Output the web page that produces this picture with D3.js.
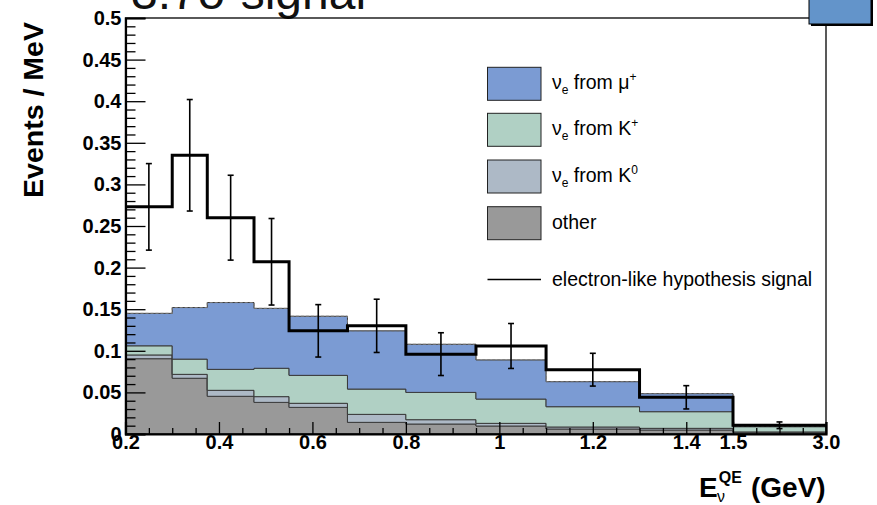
<!DOCTYPE html>
<html>
<head>
<meta charset="utf-8">
<script src="https://cdn.jsdelivr.net/npm/d3@7"></script>
<style>
  html, body { margin: 0; padding: 0; background: #fff; }
  svg { display: block; }
  text { font-family: "Liberation Sans", Arial, Helvetica, sans-serif; }
</style>
</head>
<body>
<div id="chart"></div>
<script>
// ---- data ----
const binEdges = [0.2, 0.3, 0.375, 0.475, 0.55, 0.675, 0.8, 0.95, 1.1, 1.3, 1.5, 3.0];
const otherVals = [0.0905, 0.067, 0.0453, 0.038, 0.032, 0.014, 0.012, 0.0096, 0.006, 0.0048, 0.0015];
const k0Vals    = [0.0045, 0.0047, 0.0072, 0.0069, 0.0049, 0.0096, 0.0052, 0.0032, 0.0024, 0.002, 0.001];
const kplusVals = [0.011, 0.0183, 0.0252, 0.0341, 0.0336, 0.0304, 0.0328, 0.0292, 0.0244, 0.02, 0.0063];
const muVals    = [0.039, 0.062, 0.0803, 0.072, 0.071, 0.070, 0.0578, 0.047, 0.0301, 0.0217, 0.0007];
const signalVals = [0.273, 0.335, 0.260, 0.207, 0.124, 0.130, 0.096, 0.1058, 0.0773, 0.0441, 0.0105];
const signalErr  = [0.052, 0.067, 0.051, 0.052, 0.0315, 0.032, 0.0257, 0.027, 0.0197, 0.014, 0.004];

const seriesNames = ["other", "k0", "kplus", "mu"];
const seriesColors = ["#999999", "#adb9c6", "#b0d0c4", "#7b9bd3"];
const legendLabels = [
  {sym: "ν", sub: "e", txt: " from μ", sup: "+"},
  {sym: "ν", sub: "e", txt: " from K", sup: "+"},
  {sym: "ν", sub: "e", txt: " from K", sup: "0"},
  {txt: "other"}
];

const yTicks = [0, 0.05, 0.1, 0.15, 0.2, 0.25, 0.3, 0.35, 0.4, 0.45, 0.5];
const yTickLabels = ["0", "0.05", "0.1", "0.15", "0.2", "0.25", "0.3", "0.35", "0.4", "0.45", "0.5"];
const xTicks = [0.2, 0.4, 0.6, 0.8, 1.0, 1.2, 1.4, 1.5, 3.0];
const xTickLabels = ["0.2", "0.4", "0.6", "0.8", "1", "1.2", "1.4", "1.5", "3.0"];
const xMinorTicks = [0.25, 0.3, 0.35, 0.45, 0.5, 0.55, 0.65, 0.7, 0.75, 0.85, 0.9, 0.95,
  1.05, 1.1, 1.15, 1.25, 1.3, 1.35, 1.45, 1.875, 2.25, 2.625];

// ---- layout ----
const W = 877, H = 505;
const L = 125.5, R = 826, T = 18, B = 434;

const svg = d3.select("#chart").append("svg").attr("width", W).attr("height", H);

const x = d3.scaleLinear().domain([0.2, 1.5, 3.0]).range([L, 733, R]);
const y = d3.scaleLinear().domain([0, 0.5]).range([B, T]);

// title (cut at top)
svg.append("text").attr("x", 131).attr("y", 9)
  .attr("font-size", 48).attr("fill", "#111").text("3.7σ signal");

// stacked bins
const nb = binEdges.length - 1;
const table = d3.range(nb).map(i => ({
  x0: binEdges[i], x1: binEdges[i + 1],
  other: otherVals[i], k0: k0Vals[i], kplus: kplusVals[i], mu: muVals[i]
}));
const stacked = d3.stack().keys(seriesNames)(table);

function stepPath(vals) {
  let p = d3.path();
  p.moveTo(x(binEdges[0]), y(vals[0][0]));
  for (let i = 0; i < nb; i++) {
    p.lineTo(x(binEdges[i]), y(vals[i][1]));
    p.lineTo(x(binEdges[i + 1]), y(vals[i][1]));
  }
  for (let i = nb - 1; i >= 0; i--) {
    p.lineTo(x(binEdges[i + 1]), y(vals[i][0]));
    p.lineTo(x(binEdges[i]), y(vals[i][0]));
  }
  p.closePath();
  return p.toString();
}
function stepLine(vals) {
  let p = d3.path();
  p.moveTo(x(binEdges[0]), y(vals[0]));
  for (let i = 0; i < nb; i++) {
    p.lineTo(x(binEdges[i]), y(vals[i]));
    p.lineTo(x(binEdges[i + 1]), y(vals[i]));
  }
  return p.toString();
}

const g = svg.append("g");
stacked.forEach((s, k) => {
  g.append("path").attr("d", stepPath(s.map(d => [d[0], d[1]])))
    .attr("fill", seriesColors[k]).attr("stroke", "#3a3a3a").attr("stroke-width", 1);
});
const totals = stacked[stacked.length - 1].map(d => d[1]);
g.append("path").attr("d", stepLine(totals)).attr("fill", "none")
  .attr("stroke", "#777").attr("stroke-width", 1).attr("stroke-dasharray", "3,2");

// signal histogram
g.append("path").attr("d", stepLine(signalVals)).attr("fill", "none")
  .attr("stroke", "#000").attr("stroke-width", 3);

// error bars
const eb = g.append("g").attr("stroke", "#000").attr("stroke-width", 1.6);
d3.range(nb).forEach(i => {
  const cx = (x(binEdges[i]) + x(binEdges[i + 1])) / 2;
  const lo = y(signalVals[i] - signalErr[i]), hi = y(signalVals[i] + signalErr[i]);
  eb.append("line").attr("x1", cx).attr("x2", cx).attr("y1", lo).attr("y2", hi);
  eb.append("line").attr("x1", cx - 3).attr("x2", cx + 3).attr("y1", lo).attr("y2", lo);
  eb.append("line").attr("x1", cx - 3).attr("x2", cx + 3).attr("y1", hi).attr("y2", hi);
});

// frame
svg.append("rect").attr("x", L).attr("y", T).attr("width", R - L).attr("height", B - T)
  .attr("fill", "none").attr("stroke", "#000").attr("stroke-width", 1.3);

const tickFont = 20;
// y axis
const yMinor = d3.range(0, 51).filter(v => v % 5 !== 0).map(v => v / 100);
svg.append("g").attr("transform", `translate(${L},0)`)
  .call(d3.axisLeft(y).tickValues(yMinor).tickSize(-10).tickFormat(""))
  .call(a => a.select(".domain").remove())
  .call(a => a.selectAll("line").attr("stroke-width", 1.3));
svg.append("g").attr("transform", `translate(${L},0)`)
  .call(d3.axisLeft(y).tickValues(yTicks).tickSize(-20).tickPadding(4)
    .tickFormat((d, i) => yTickLabels[i]))
  .call(a => a.select(".domain").attr("stroke-width", 2.2))
  .call(a => a.selectAll("line").attr("stroke-width", 1.3))
  .call(a => a.selectAll("text").attr("font-size", tickFont).attr("font-weight", "bold")
    .attr("font-family", "Liberation Sans, Arial, sans-serif").attr("fill", "#000"));

// x axis
svg.append("g").attr("transform", `translate(0,${B})`)
  .call(d3.axisBottom(x).tickValues(xMinorTicks).tickSize(-6).tickFormat(""))
  .call(a => a.select(".domain").remove())
  .call(a => a.selectAll("line").attr("stroke-width", 1.3));
svg.append("g").attr("transform", `translate(0,${B})`)
  .call(d3.axisBottom(x).tickValues(xTicks).tickSize(-12).tickPadding(1)
    .tickFormat((d, i) => xTickLabels[i]))
  .call(a => a.select(".domain").attr("stroke-width", 2.2))
  .call(a => a.selectAll("line").attr("stroke-width", 1.3))
  .call(a => a.selectAll("text").attr("font-size", tickFont).attr("font-weight", "bold")
    .attr("font-family", "Liberation Sans, Arial, sans-serif").attr("fill", "#000"));

// axis titles
svg.append("text")
  .attr("transform", "translate(43,110) rotate(-90)")
  .attr("text-anchor", "middle").attr("font-size", 28.5).attr("font-weight", "bold")
  .text("Events / MeV");

const xt = svg.append("text").attr("x", 699).attr("y", 497)
  .attr("font-size", 28).attr("font-weight", "bold");
xt.append("tspan").text("E");
xt.append("tspan").attr("font-size", 16).attr("dy", -14).attr("dx", 1).text("QE");
xt.append("tspan").attr("font-size", 16).attr("x", 717).attr("dy", 19).attr("font-weight", "normal").text("ν");
xt.append("tspan").attr("x", 751).attr("dy", -5).text("(GeV)");

// legend
const lg = svg.append("g");
const legY = [67.3, 113.3, 160, 206.7];
const legFont = 19.5;
legendLabels.forEach((d, i) => {
  lg.append("rect").attr("x", 487.5).attr("y", legY[i]).attr("width", 53.5).attr("height", 33)
    .attr("fill", seriesColors[3 - i]).attr("stroke", "#222").attr("stroke-width", 1);
  const t = lg.append("text").attr("x", 552).attr("y", legY[i] + 22).attr("font-size", legFont).attr("fill", "#000");
  if (d.sym) {
    t.append("tspan").text(d.sym);
    t.append("tspan").attr("font-size", 12).attr("dy", 5).text(d.sub);
    t.append("tspan").attr("dy", -5).text(d.txt);
    t.append("tspan").attr("font-size", 12).attr("dy", -8).text(d.sup);
  } else {
    t.text(d.txt);
  }
});
lg.append("line").attr("x1", 487.5).attr("x2", 541).attr("y1", 279.5).attr("y2", 279.5)
  .attr("stroke", "#000").attr("stroke-width", 1.6);
lg.append("text").attr("x", 552).attr("y", 286).attr("font-size", legFont).text("electron-like hypothesis signal");

// cut-off box top right
svg.append("rect").attr("x", 811).attr("y", -3).attr("width", 62).attr("height", 29).attr("fill", "#000");
svg.append("rect").attr("x", 809).attr("y", -5).attr("width", 62).attr("height", 29)
  .attr("fill", "#6394ca").attr("stroke", "#000").attr("stroke-width", 1);
</script>
</body>
</html>
